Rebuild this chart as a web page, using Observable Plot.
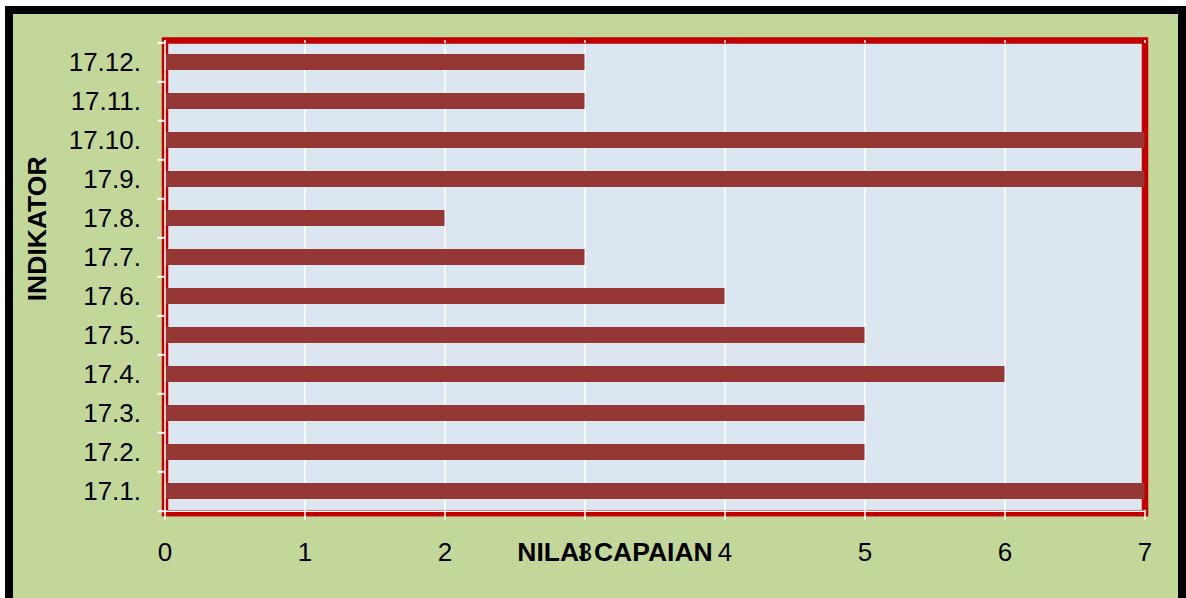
<!DOCTYPE html>
<html>
<head>
<meta charset="utf-8">
<script src="https://cdn.jsdelivr.net/npm/d3@7"></script>
<script src="https://cdn.jsdelivr.net/npm/@observablehq/plot@0.6"></script>
<style>
  html, body { margin: 0; padding: 0; background: #ffffff; overflow: hidden; }
  #wrap { position: relative; width: 1186px; height: 598px; background: #c4d79b; }
  #wrap svg { position: absolute; left: 0; top: 0; }
  #border { position: absolute; left: 5px; top: 6px; width: 1181px; height: 700px;
            border: 8px solid #000; box-sizing: border-box; box-shadow: 0 0 0 6px #fff; pointer-events: none; }
</style>
</head>
<body>
<div id="wrap"><div id="border"></div></div>
<script>
const categories = ["17.1.","17.2.","17.3.","17.4.","17.5.","17.6.","17.7.","17.8.","17.9.","17.10.","17.11.","17.12."];
const values = [7,5,5,6,5,4,3,2,7,7,3,3];
const xTicks = [0,1,2,3,4,5,6,7];
const xLabel = "NILAI CAPAIAN";
const yLabel = "INDIKATOR";

const data = categories.map((c, i) => ({indikator: c, nilai: values[i]}));
const font = "'Liberation Sans', Arial, sans-serif";
const mTop = 40, mBottom = 85.3, H = 598;
const plotH = H - mTop - mBottom;
const step = plotH / categories.length;

const chart = Plot.plot({
  width: 1186,
  height: H,
  marginLeft: 164.5,
  marginRight: 41.5,
  marginTop: mTop,
  marginBottom: mBottom,
  style: {background: "transparent", fontFamily: font, fontSize: "26px", color: "#000", overflow: "visible"},
  x: {domain: [0, 7], ticks: xTicks, tickFormat: d3.format("d"), label: null},
  y: {domain: categories.slice().reverse(), paddingInner: 0.594, paddingOuter: 0.297, label: null},
  marks: [
    Plot.frame({fill: "#dce6f1", stroke: null}),
    Plot.ruleX(xTicks, {x: d => d, stroke: "#ffffff", strokeWidth: 1.5}),
    Plot.frame({stroke: "#c00000", strokeWidth: 6.5}),
    Plot.barX(data, {x: "nilai", y: "indikator", fill: "#953735"}),
    Plot.ruleX(xTicks, {x: d => d, stroke: "#ffffff", strokeWidth: 1.5, insetBottom: plotH - 3}),
    Plot.ruleX(xTicks, {x: d => d, stroke: "#ffffff", strokeWidth: 1.5, insetTop: plotH - 3, insetBottom: -7}),
    Plot.ruleX([0], {x: d => d, stroke: "#ffffff", strokeWidth: 1.5}),
    Plot.ruleY([categories[0]], {y: d => d, dy: step / 2, stroke: "#ffffff", strokeWidth: 1.5}),
    Plot.ruleY(categories, {y: d => d, x1: -0.05, x2: 0, dy: -step / 2, stroke: "#ffffff", strokeWidth: 2}),
    Plot.ruleY([categories[0]], {y: d => d, x1: -0.05, x2: 0, dy: step / 2, stroke: "#ffffff", strokeWidth: 2}),
    Plot.axisX(xTicks, {tickSize: 0, tickPadding: 29, fontSize: 26, fill: "#000", fontFamily: font, tickFormat: d3.format("d")}),
    Plot.axisY({tickSize: 0, tickPadding: 24, fontSize: 26, fill: "#000", fontFamily: font}),
    Plot.text([xLabel], {frameAnchor: "bottom", lineAnchor: "middle", textAnchor: "middle", dx: -40, dy: 39, fontWeight: "bold", fontSize: 26.5, fill: "#000", fontFamily: font}),
    Plot.text([yLabel], {frameAnchor: "left", lineAnchor: "middle", textAnchor: "middle", rotate: -90, dx: -127.5, dy: -48, fontWeight: "bold", fontSize: 26.5, fill: "#000", fontFamily: font})
  ]
});
document.getElementById("wrap").insertBefore(chart, document.getElementById("border"));
</script>
</body>
</html>
